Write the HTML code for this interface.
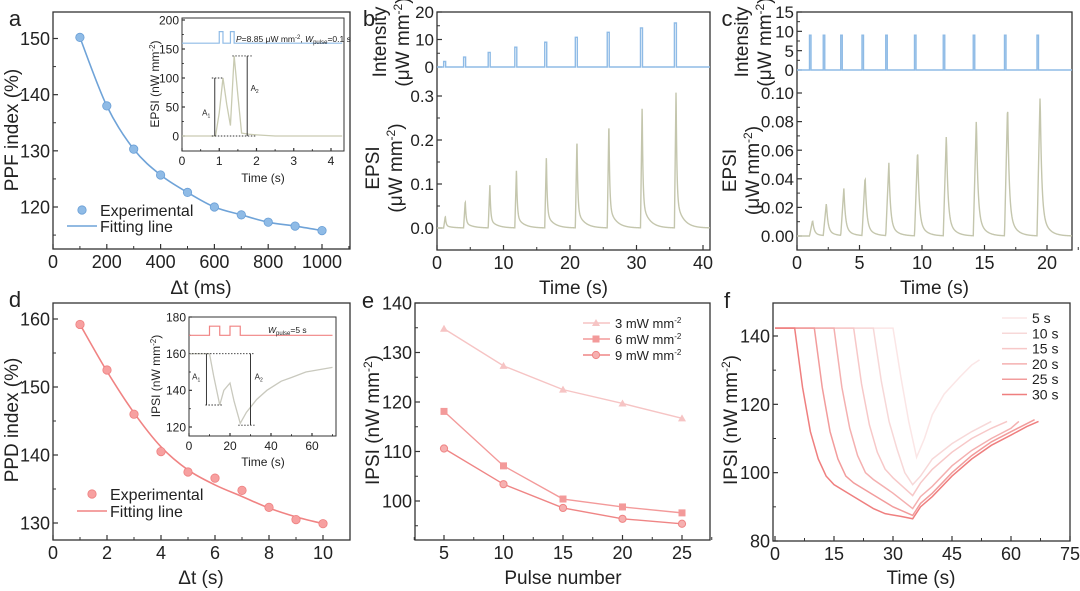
<!DOCTYPE html>
<html><head><meta charset="utf-8">
<style>
html,body{margin:0;padding:0;background:#fff;}
svg{display:block;font-family:"Liberation Sans",Arial,sans-serif;}
</style></head>
<body>
<svg id="fig" width="1080" height="591" viewBox="0 0 1080 591" xmlns="http://www.w3.org/2000/svg"></svg>
<script>
// ---------- DATA ----------
const aDt = [100,200,300,400,500,600,700,800,900,1000];
const aPPF = [150.2,138,130.3,125.7,122.6,120,118.6,117.3,116.6,115.8];
const aXTicks = [0,200,400,600,800,1000];
const aYTicks = [120,130,140,150];
const aInT = [0,0.9,1.0,1.1,1.2,1.3,1.4,1.5,1.6,1.8,2.0,2.5,4.3];
const aInV = [0,0,40,100,55,18,138,70,5,3,2,0,0];
const bTimes = [1,4,7.7,11.7,16.2,20.8,25.6,30.6,35.7];
const bInt = [2,3.6,5.3,7.2,9,10.8,12.6,14.2,16];
const bPeak = [0.027,0.062,0.097,0.135,0.165,0.205,0.242,0.282,0.32];
const cTimes = [1,2.1,3.5,5.2,7.1,9.4,11.7,14.1,16.6,19.2];
const cInt = [9,9,9,9,9,9,9,9,9,9];
const cPeak = [0.011,0.023,0.033,0.042,0.051,0.061,0.072,0.083,0.093,0.100];
const dDt = [1,2,3,4,5,6,7,8,9,10];
const dPPD = [159.2,152.5,146,140.5,137.5,136.6,134.8,132.3,130.5,129.9];
const dFit = [159.2,152.3,146.2,141.2,137.8,135.6,133.9,132.2,130.9,129.9];
const dInT = [0,10,12,15,17,20,22,25,28,33,38,45,50,57,70];
const dInV = [160,160,148,132,140,144,134,122,128,135,140,145,147,150,152.5];
const ePulse = [5,10,15,20,25];
const e3 = [134.8,127.3,122.5,119.7,116.7];
const e6 = [118.1,107.1,100.4,98.8,97.6];
const e9 = [110.6,103.4,98.6,96.4,95.4];
const fLabels = ['5 s','10 s','15 s','20 s','25 s','30 s'];
const f5T = [0,30,32,34,36,38,40,43,47,50,52];
const f5V = [142.3,142.3,128,115,104.5,110,117,123,128,131.5,133];
const f10T = [0,25,27,29,31,33,35,37,40,45,50,55];
const f10V = [142.3,142.3,127,115,107,100,96.5,99,104,108.5,112,115];
const f15T = [0,20,22,24,26,28,30,35,37,40,45,50,55,59];
const f15V = [142.3,142.3,126,114,106,101,98.5,93.3,97,101,106,110,113,115];
const f20T = [0,15,17,19,21,23,25,30,35,37,40,45,50,55,60,62];
const f20V = [142.3,142.3,125,113,105,100,98,94,89.5,93,96,102,106.5,110,113,115];
const f25T = [0,10,12,14,16,18,20,25,30,35,37,40,45,50,55,60,66];
const f25V = [142.3,142.3,125,112,104,99,97,93.5,90,87.5,91,94,100,105,109,112,115.5];
const f30T = [0,5,7,9,11,13,15,20,25,28,32,35,37,40,45,50,55,60,64,67];
const f30V = [142.3,142.3,125,112,104,99,96.5,93,89.5,88,87.2,86.5,90,93,99,104,108,111,113.5,115];

// ---------- HELPERS ----------
const NS='http://www.w3.org/2000/svg';
const fig=document.getElementById('fig');
function mk(tag,name,attrs,parent){
  const el=document.createElementNS(NS,tag);
  
  
  for(const k in attrs) el.setAttribute(k,attrs[k]);
  (parent||fig).appendChild(el);
  return el;
}
function txt(name,x,y,s,size,opts,parent){
  opts=opts||{};
  const t=mk('text',name,{x:x,y:y,'font-size':size,fill:'#222','text-anchor':opts.anchor||'middle'},parent);
  if(opts.rot) t.setAttribute('transform','rotate(-90 '+x+' '+y+')');
  t.innerHTML=s;
  return t;
}
const lin=(d0,d1,r0,r1)=>v=>r0+(v-d0)*(r1-r0)/(d1-d0);
function frame(name,x0,y0,x1,y1,w){
  mk('rect',name,{x:x0,y:y0,width:x1-x0,height:y1-y0,fill:'none',stroke:'#333','stroke-width':w||1.3});
}
function xTicks(name,sx,y,ticks,minor,fs,fmt,len){
  len=len||5;
  ticks.forEach(v=>{
    mk('line',name+'-tick',{x1:sx(v),x2:sx(v),y1:y,y2:y-len,stroke:'#333','stroke-width':1.2});
    txt(name+'-label',sx(v),y+3+fs*0.9,fmt?fmt(v):v,fs);
  });
  (minor||[]).forEach(v=>mk('line',name+'-minor',{x1:sx(v),x2:sx(v),y1:y,y2:y-len*0.6,stroke:'#333','stroke-width':1}));
}
function yTicks(name,sy,x,ticks,minor,fs,fmt,len){
  len=len||5;
  ticks.forEach(v=>{
    mk('line',name+'-tick',{x1:x+len,x2:x,y1:sy(v),y2:sy(v),stroke:'#333','stroke-width':1.2});
    txt(name+'-label',x-3,sy(v)+fs*0.36,fmt?fmt(v):v,fs,{anchor:'end'});
  });
  (minor||[]).forEach(v=>mk('line',name+'-minor',{x1:x+len*0.6,x2:x,y1:sy(v),y2:sy(v),stroke:'#333','stroke-width':1}));
}
function polyPath(xs,ys){return xs.map((x,i)=>(i?'L':'M')+x.toFixed(2)+' '+ys[i].toFixed(2)).join(' ');}
function smoothPath(px,py){
  let d='M'+px[0]+' '+py[0];
  for(let i=0;i<px.length-1;i++){
    const x0=px[Math.max(i-1,0)],y0=py[Math.max(i-1,0)],x3=px[Math.min(i+2,px.length-1)],y3=py[Math.min(i+2,px.length-1)];
    const c1x=px[i]+(px[i+1]-x0)/6,c1y=py[i]+(py[i+1]-y0)/6,c2x=px[i+1]-(x3-px[i])/6,c2y=py[i+1]-(y3-py[i])/6;
    d+=' C'+c1x.toFixed(2)+' '+c1y.toFixed(2)+' '+c2x.toFixed(2)+' '+c2y.toFixed(2)+' '+px[i+1].toFixed(2)+' '+py[i+1].toFixed(2);
  }
  return d;
}
function rng(a,b,s){const r=[];for(let v=a;v<=b+1e-9;v+=s)r.push(+v.toFixed(4));return r;}
const FS=18, TS=19, IFS=12, BFS=17;
const SUP='(μW mm<tspan dy="-7" font-size="12">-2</tspan><tspan dy="7">)</tspan>';
const SUPN='(nW mm<tspan dy="-7" font-size="12">-2</tspan><tspan dy="7">)</tspan>';

// ---------- PANEL A ----------
(function(){
  const sx=lin(0,1000,53,322), sy=lin(150,120,38.5,207);
  frame('panel-a-frame',53,12,350,249);
  xTicks('a-x',sx,249,aXTicks,rng(100,1100,200),FS);
  yTicks('a-y',sy,53,aYTicks,[115,125,135,145],FS);
  txt('panel-a-letter',15,26,'a',22);
  txt('a-y-axis-title',18,130,'PPF index (%)',TS,{rot:1});
  txt('a-x-axis-title',201,294,'Δt (ms)',TS);
  mk('path','a-fitting-line',{d:smoothPath(aDt.map(sx),aPPF.map(sy)),fill:'none',stroke:'#6fa3d8','stroke-width':1.6});
  aDt.forEach((v,i)=>mk('circle','a-experimental-point',{cx:sx(v),cy:sy(aPPF[i]),r:4.2,fill:'#8fbbe6',stroke:'#6a9fd6','stroke-width':0.8}));
  mk('circle','a-legend-marker',{cx:82,cy:210,r:4.2,fill:'#8fbbe6',stroke:'#6a9fd6','stroke-width':0.8});
  txt('a-legend-experimental',100,216,'Experimental',16,{anchor:'start'});
  mk('line','a-legend-line',{x1:67,x2:97,y1:226,y2:226,stroke:'#6fa3d8','stroke-width':1.6});
  txt('a-legend-fitting',100,232,'Fitting line',16,{anchor:'start'});
  const ix=lin(0,4,182,331), iy=lin(0,200,136,20);
  frame('a-inset-frame',182,18,344,151,1);
  xTicks('a-inset-x',ix,151,[0,1,2,3,4],[0.5,1.5,2.5,3.5],IFS,null,3);
  yTicks('a-inset-y',iy,182,[0,50,100,150,200],[25,75,125,175],IFS,null,3);
  txt('a-inset-y-title',159,84,'EPSI (nW mm<tspan dy="-4" font-size="8">-2</tspan><tspan dy="4">)</tspan>',12,{rot:1});
  txt('a-inset-x-title',263,182,'Time (s)',12);
  mk('path','a-inset-epsi-trace',{d:polyPath(aInT.map(ix),aInV.map(iy)),fill:'none',stroke:'#c9cbb2','stroke-width':1.3});
  const pulse=[[0,160],[1.0,160],[1.0,180],[1.1,180],[1.1,160],[1.3,160],[1.3,180],[1.4,180],[1.4,160],[4.3,160]];
  mk('path','a-inset-light-pulse',{d:polyPath(pulse.map(p=>ix(p[0])),pulse.map(p=>iy(p[1]))),fill:'none',stroke:'#8fbbe6','stroke-width':1.2});
  txt('a-inset-annotation',236,42,'<tspan font-style="italic">P</tspan>=8.85 μW mm<tspan dy="-3" font-size="6">-2</tspan><tspan dy="3">, </tspan><tspan font-style="italic">W</tspan><tspan dy="2" font-size="6">pulse</tspan><tspan dy="-2">=0.1 s</tspan>',8.5,{anchor:'start'});
  mk('line','a-inset-dash-0',{x1:ix(0.8),x2:ix(2.0),y1:iy(0),y2:iy(0),stroke:'#333','stroke-dasharray':'1.5 1.5','stroke-width':0.9});
  mk('line','a-inset-dash-a1',{x1:ix(0.8),x2:ix(1.12),y1:iy(100),y2:iy(100),stroke:'#333','stroke-dasharray':'1.5 1.5','stroke-width':0.9});
  mk('line','a-inset-dash-a2',{x1:ix(1.35),x2:ix(1.9),y1:iy(138),y2:iy(138),stroke:'#333','stroke-dasharray':'1.5 1.5','stroke-width':0.9});
  mk('line','a-inset-arrow-a1',{x1:ix(0.88),x2:ix(0.88),y1:iy(0),y2:iy(100),stroke:'#222','stroke-width':0.9});
  mk('line','a-inset-arrow-a2',{x1:ix(1.75),x2:ix(1.75),y1:iy(0),y2:iy(138),stroke:'#222','stroke-width':0.9});
  txt('a-inset-label-a1',ix(0.65),iy(35),'A<tspan font-size="5" dy="2">1</tspan>',8);
  txt('a-inset-label-a2',ix(1.95),iy(78),'A<tspan font-size="5" dy="2">2</tspan>',8);
})();

// ---------- PANELS B & C ----------
function drawStim(id,L,R,xMax,xAt,xt,xminor,times,ints,peaks,pw,intTop,intTicks,intMinor,i0y,i1y,eTop,eTicks,eMinor,e0y,e1y,eFmt,intTX,epsiTX){
  const sx=lin(0,xMax,L,xAt);
  const si=lin(0,intTop,i0y,i1y), se=lin(0,eTop,e0y,e1y);
  frame(id+'-frame',L,12,R,250);
  xTicks(id+'-x',sx,250,xt,xminor,FS);
  yTicks(id+'-int-y',si,L,intTicks,intMinor,BFS);
  yTicks(id+'-epsi-y',se,L,eTicks,eMinor,BFS,eFmt);
  const tmax=(R-L)/(xAt-L)*xMax;
  let px=[0],py=[0];
  times.forEach((t,i)=>{px.push(t,t,t+pw,t+pw);py.push(0,ints[i],ints[i],0);});
  px.push(tmax);py.push(0);
  mk('path',id+'-intensity-trace',{d:polyPath(px.map(sx),py.map(si)),fill:'none',stroke:'#8fbbe6','stroke-width':1.4});
  const ex=[],ey=[];
  for(let t=0;t<=tmax;t+=0.03){
    let v=0;
    times.forEach((t0,i)=>{
      const dt=t-t0;
      if(dt>=0&&dt<0.25) v+=peaks[i]*dt/0.25;
      else if(dt>=0.25) v+=peaks[i]*(0.8*Math.exp(-(dt-0.25)/0.12)+0.2*Math.exp(-(dt-0.25)/(xMax/40)));
    });
    ex.push(sx(t));ey.push(se(v));
  }
  mk('path',id+'-epsi-trace',{d:polyPath(ex,ey),fill:'none',stroke:'#c4c6ad','stroke-width':1.4});
  txt(id+'-x-axis-title',(L+R)/2,294,'Time (s)',TS);
  txt(id+'-int-title-1',intTX,42,'Intensity',TS,{rot:1});
  txt(id+'-int-title-2',intTX+23,42,SUP,TS,{rot:1});
  txt(id+'-epsi-title-1',epsiTX,(e0y+e1y)/2+6,'EPSI',TS,{rot:1});
  txt(id+'-epsi-title-2',epsiTX+23,(e0y+e1y)/2+6,SUP,TS,{rot:1});
}
drawStim('b',437,710,40,703,[0,10,20,30,40],rng(5,35,10),bTimes,bInt,bPeak,0.3,20,[0,10,20],[5,15],67,12,0.3,[0,0.1,0.2,0.3],[0.05,0.15,0.25],228,96,v=>v.toFixed(1),386,379);
txt('panel-b-letter',369,26,'b',22);
drawStim('c',797,1072,20,1047,[0,5,10,15,20],rng(2.5,22.5,5),cTimes,cInt,cPeak,0.12,15,[0,5,10,15],[2.5,7.5,12.5],70,12,0.10,[0,0.02,0.04,0.06,0.08,0.10],[0.01,0.03,0.05,0.07,0.09],236,93,v=>v.toFixed(2),748,736);
txt('panel-c-letter',727,26,'c',22);

// ---------- PANEL D ----------
(function(){
  const sx=lin(0,10,53,323), sy=lin(160,130,319,523);
  frame('panel-d-frame',53,303,350,540);
  xTicks('d-x',sx,540,[0,2,4,6,8,10],rng(1,11,2),FS);
  yTicks('d-y',sy,53,[130,140,150,160],[135,145,155],FS);
  txt('panel-d-letter',15,307,'d',22);
  txt('d-y-axis-title',18,420,'PPD index (%)',TS,{rot:1});
  txt('d-x-axis-title',201,584,'Δt (s)',TS);
  mk('path','d-fitting-line',{d:smoothPath(dDt.map(sx),dFit.map(sy)),fill:'none',stroke:'#f08383','stroke-width':1.6});
  dDt.forEach((v,i)=>mk('circle','d-experimental-point',{cx:sx(v),cy:sy(dPPD[i]),r:4.2,fill:'#f7a0a0',stroke:'#ee8080','stroke-width':0.8}));
  mk('circle','d-legend-marker',{cx:92,cy:494,r:4.2,fill:'#f7a0a0',stroke:'#ee8080','stroke-width':0.8});
  txt('d-legend-experimental',110,500,'Experimental',16,{anchor:'start'});
  mk('line','d-legend-line',{x1:77,x2:107,y1:511,y2:511,stroke:'#f08383','stroke-width':1.6});
  txt('d-legend-fitting',110,517,'Fitting line',16,{anchor:'start'});
  const ix=lin(0,60,189,312), iy=lin(120,180,427,317);
  frame('d-inset-frame',189,317,336,436,1);
  xTicks('d-inset-x',ix,436,[0,20,40,60],[10,30,50,70],IFS,null,3);
  yTicks('d-inset-y',iy,189,[120,140,160,180],[130,150,170],IFS,null,3);
  txt('d-inset-y-title',160,376,'IPSI (nW mm<tspan dy="-4" font-size="8">-2</tspan><tspan dy="4">)</tspan>',12,{rot:1});
  txt('d-inset-x-title',263,466,'Time (s)',12);
  mk('path','d-inset-ipsi-trace',{d:polyPath(dInT.map(ix),dInV.map(iy)),fill:'none',stroke:'#c9c9be','stroke-width':1.3});
  const pulse=[[0,170],[10,170],[10,175],[15,175],[15,170],[20,170],[20,175],[25,175],[25,170],[70,170]];
  mk('path','d-inset-light-pulse',{d:polyPath(pulse.map(p=>ix(p[0])),pulse.map(p=>iy(p[1]))),fill:'none',stroke:'#f08383','stroke-width':1.2});
  txt('d-inset-annotation',268,333,'<tspan font-style="italic">W</tspan><tspan dy="2" font-size="6">pulse</tspan><tspan dy="-2">=5 s</tspan>',8.5,{anchor:'start'});
  mk('line','d-inset-dash-160',{x1:ix(0),x2:ix(32),y1:iy(160),y2:iy(160),stroke:'#333','stroke-dasharray':'1.5 1.5','stroke-width':0.9});
  mk('line','d-inset-dash-a1',{x1:ix(8),x2:ix(16),y1:iy(132),y2:iy(132),stroke:'#333','stroke-dasharray':'1.5 1.5','stroke-width':0.9});
  mk('line','d-inset-dash-a2',{x1:ix(24),x2:ix(32),y1:iy(121),y2:iy(121),stroke:'#333','stroke-dasharray':'1.5 1.5','stroke-width':0.9});
  mk('line','d-inset-arrow-a1',{x1:ix(8.5),x2:ix(8.5),y1:iy(160),y2:iy(132),stroke:'#222','stroke-width':0.9});
  mk('line','d-inset-arrow-a2',{x1:ix(30),x2:ix(30),y1:iy(160),y2:iy(121),stroke:'#222','stroke-width':0.9});
  txt('d-inset-label-a1',ix(3.5),iy(146),'A<tspan font-size="5" dy="2">1</tspan>',8);
  txt('d-inset-label-a2',ix(34),iy(146),'A<tspan font-size="5" dy="2">2</tspan>',8);
})();

// ---------- PANEL E ----------
(function(){
  const sx=lin(5,25,444,682), sy=lin(140,100,303,501);
  frame('panel-e-frame',415,303,710,540);
  xTicks('e-x',sx,540,ePulse,[2.5,7.5,12.5,17.5,22.5,27.5],FS);
  yTicks('e-y',sy,415,[100,110,120,130,140],[95,105,115,125,135],FS);
  txt('panel-e-letter',368,308,'e',22);
  txt('e-y-axis-title',379,420,'IPSI '+SUPN,TS,{rot:1});
  txt('e-x-axis-title',563,584,'Pulse number',TS);
  const series=[[e3,'#f6c4c4','tri'],[e6,'#f39a9a','sq'],[e9,'#ef8585','circ']];
  series.forEach((s,k)=>{
    mk('path','e-series-line',{d:polyPath(ePulse.map(sx),s[0].map(sy)),fill:'none',stroke:s[1],'stroke-width':1.4});
    ePulse.forEach((p,i)=>{
      const x=sx(p),y=sy(s[0][i]);
      if(s[2]==='tri') mk('path','e-point-3mw',{d:`M${x} ${y-4}L${x+4} ${y+3}L${x-4} ${y+3}Z`,fill:s[1]});
      else if(s[2]==='sq') mk('rect','e-point-6mw',{x:x-3.5,y:y-3.5,width:7,height:7,fill:s[1]});
      else mk('circle','e-point-9mw',{cx:x,cy:y,r:3.6,fill:'#f6b0b0',stroke:s[1],'stroke-width':1});
    });
    const ly=323+k*16;
    mk('line','e-legend-line',{x1:583,x2:610,y1:ly,y2:ly,stroke:s[1],'stroke-width':1.4});
    const mx=596;
    if(s[2]==='tri') mk('path','e-legend-marker',{d:`M${mx} ${ly-4}L${mx+4} ${ly+3}L${mx-4} ${ly+3}Z`,fill:s[1]});
    else if(s[2]==='sq') mk('rect','e-legend-marker',{x:mx-3.5,y:ly-3.5,width:7,height:7,fill:s[1]});
    else mk('circle','e-legend-marker',{cx:mx,cy:ly,r:3.6,fill:'#f6b0b0',stroke:s[1],'stroke-width':1});
    txt('e-legend-label',615,ly+5,[3,6,9][k]+' mW mm<tspan dy="-5" font-size="8">-2</tspan>',13,{anchor:'start'});
  });
})();

// ---------- PANEL F ----------
(function(){
  const sx=lin(0,75,775,1070), sy=lin(140,80,336,541);
  frame('panel-f-frame',773,303,1070,541);
  xTicks('f-x',sx,541,[0,15,30,45,60,75],[7.5,22.5,37.5,52.5,67.5],FS);
  yTicks('f-y',sy,773,[80,100,120,140],[90,110,130],FS);
  txt('panel-f-letter',727,308,'f',22);
  txt('f-y-axis-title',737,420,'IPSI '+SUPN,TS,{rot:1});
  txt('f-x-axis-title',921,584,'Time (s)',TS);
  const T=[f5T,f10T,f15T,f20T,f25T,f30T], V=[f5V,f10V,f15V,f20V,f25V,f30V];
  const cols=['#fbe6e6','#f7d8d8','#f7c8c8','#f4b0b0','#f29c9c','#ef7f7f'];
  T.forEach((t,k)=>{
    mk('path','f-curve-'+fLabels[k].replace(' ',''),{d:polyPath(t.map(sx),V[k].map(sy)),fill:'none',stroke:cols[k],'stroke-width':1.5});
    const ly=318+k*15.3;
    mk('line','f-legend-line',{x1:1002,x2:1027,y1:ly,y2:ly,stroke:cols[k],'stroke-width':1.5});
    txt('f-legend-label',1032,ly+5,fLabels[k],14,{anchor:'start'});
  });
})();
</script>
</body></html>
